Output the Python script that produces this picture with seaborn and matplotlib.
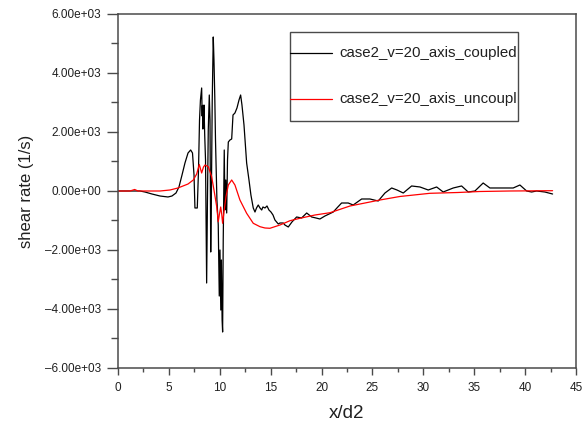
import numpy as np
import pandas as pd
import matplotlib
matplotlib.use("Agg")
import matplotlib.pyplot as plt
from matplotlib.ticker import MultipleLocator, FuncFormatter
from matplotlib.patches import Rectangle
from matplotlib.lines import Line2D
from matplotlib.transforms import Bbox, TransformedBbox
import seaborn as sns

# Shear rate along the axis, coupled run
x_coupled = [0.00, 1.18, 2.16, 2.65, 3.34, 4.13, 4.91, 5.30, 5.70, 5.99, 6.29, 6.58, 6.88,
             7.14, 7.32, 7.47, 7.56, 7.79, 7.91, 8.01, 8.10, 8.22, 8.27, 8.30, 8.34, 8.38, 8.45, 8.52,
             8.60, 8.71, 8.79, 8.87, 8.97, 9.04, 9.11, 9.18, 9.26, 9.36, 9.43, 9.51, 9.58,
             9.66, 9.72, 9.85, 9.95, 10.02, 10.10, 10.16, 10.23, 10.28, 10.34, 10.44, 10.51,
             10.59, 10.68, 10.76, 10.84, 11.00, 11.17, 11.30, 11.49, 11.69, 11.89, 12.05,
             12.18, 12.38, 12.64, 12.87, 13.06, 13.29, 13.46, 13.61, 13.78, 13.95, 14.12,
             14.24, 14.44, 14.64, 14.83, 15.03, 15.23, 15.42, 15.75, 15.91, 16.24, 16.40,
             16.73, 17.09, 17.55, 18.04, 18.54, 19.03, 19.45, 19.84, 20.33, 21.15, 21.51,
             21.97, 22.62, 23.11, 23.94, 24.75, 25.57, 26.23, 26.89, 27.41, 28.03, 28.85,
             29.67, 30.48, 31.31, 31.95, 32.94, 33.76, 34.41, 35.07, 35.88, 36.54, 37.85,
             38.83, 39.49, 40.15, 40.64, 41.13, 41.94, 42.70]
y_coupled = [0, 0, 0, -34, -102, -170, -203, -170, -68, 136, 542, 949, 1288,
             1390, 1288, 542, -576, -576, 712, 2407, 3085, 3492, 2540, 2900, 2100, 2237, 2915, 1898,
             1051, -3119, -305, 2068, 3254, 2407, -2068, 34, 3085, 5221, 4441, 3187, 1729,
             542, -305, -1153, -3560, -2000, -4034, -2339, -4373, -4780, -1661, 1390, -644,
             373, -746, 1051, 1661, 1729, 1763, 2576, 2644, 2814, 3085, 3254,
             2915, 2237, 949, 373, -136, -576, -712, -576, -475, -576, -644,
             -542, -576, -508, -644, -712, -814, -983, -1119, -1085, -1085, -1153,
             -1220, -1051, -881, -915, -746, -881, -915, -949, -848, -712, -576,
             -407, -407, -475, -271, -271, -339, -68, 102, 34, -68, 170,
             136, 34, 136, -34, 102, 170, -34, 0, 271, 102, 102,
             102, 203, 0, -34, 0, -34, -102]

# Shear rate along the axis, uncoupled run
x_uncoupled = [0.00, 1.18, 1.64, 1.96, 3.14, 4.13, 5.11, 5.89, 6.88, 7.40, 7.73, 7.99, 8.22,
               8.40, 8.55, 8.87, 9.20, 9.43, 9.70, 9.85, 9.97, 10.09, 10.20, 10.28, 10.41,
               10.61, 10.84, 11.17, 11.49, 11.98, 12.64, 13.29, 13.95, 14.44, 14.93, 15.91,
               16.90, 17.88, 19.35, 20.83, 22.79, 25.74, 27.70, 30.65, 33.40, 35.56, 38.51,
               42.70]
y_uncoupled = [0, 0, 51, 0, 0, 0, 34, 102, 237, 373, 576, 898, 610,
               814, 881, 824, 485, 34, -532, -1041, -780, -542, -814, -1095, -712,
               -193, 203, 373, 203, -305, -756, -1095, -1210, -1254, -1264, -1153,
               -1007, -925, -814, -736, -509, -305, -186, -78, -51, -17, 0,
               10]

series_names = ["case2_v=20_axis_coupled", "case2_v=20_axis_uncoupled"]
series_colors = ["#000000", "#ff0000"]

x_ticks = [0, 5, 10, 15, 20, 25, 30, 35, 40, 45]
y_ticks = [-6000, -4000, -2000, 0, 2000, 4000, 6000]

df = pd.concat([
    pd.DataFrame({"x": x_coupled, "rate": y_coupled, "case": series_names[0]}),
    pd.DataFrame({"x": x_uncoupled, "rate": y_uncoupled, "case": series_names[1]}),
])

sns.set_style("ticks")
plt.rcParams["font.family"] = ["Liberation Sans", "DejaVu Sans"]

fig = plt.figure(figsize=(5.85, 4.28), dpi=100)
ax = fig.add_axes([0.2017, 0.1402, 0.7829, 0.8271])

sns.lineplot(data=df, x="x", y="rate", hue="case", hue_order=series_names,
             palette=dict(zip(series_names, series_colors)), estimator=None,
             sort=False, linewidth=0.9, legend=False, ax=ax)

ax.set_xlim(0, 45)
ax.set_ylim(-6000, 6000)
ax.set_xticks(x_ticks)
ax.set_yticks(y_ticks)
ax.xaxis.set_minor_locator(MultipleLocator(2.5))
ax.yaxis.set_minor_locator(MultipleLocator(1000))
ax.yaxis.set_major_formatter(FuncFormatter(lambda v, p: f"{v:.2e}".replace("-", "\u2013")))
ax.xaxis.set_major_formatter(FuncFormatter(lambda v, p: f"{v:g}"))

spine_color = "#4a4a4a"
for s in ax.spines.values():
    s.set_color(spine_color)
    s.set_linewidth(1.1)

ax.tick_params(axis="both", which="both", direction="out", color=spine_color,
               width=1.0, labelsize=8.5, labelcolor="#202020")
ax.tick_params(axis="y", which="major", length=8, pad=4)
ax.tick_params(axis="y", which="minor", length=5)
ax.tick_params(axis="x", which="major", length=5, pad=5)
ax.tick_params(axis="x", which="minor", length=3)

ax.set_xlabel("x/d2", fontsize=13.5, color="#202020", labelpad=8)
ax.set_ylabel("shear rate (1/s)", fontsize=12, color="#202020", labelpad=8)

# Boxed key in the upper right; labels are cut at the box edge
key_x0, key_y0, key_w, key_h = 0.3755, 0.6977, 0.4979, 0.2513
box = Rectangle((key_x0, key_y0), key_w, key_h, transform=ax.transAxes,
                facecolor="white", edgecolor=spine_color, linewidth=1.0, zorder=5)
ax.add_patch(box)
key_clip = TransformedBbox(Bbox([[key_x0, key_y0], [key_x0 + key_w - 0.002, key_y0 + key_h]]),
                           ax.transAxes)
for name, color, yy in zip(series_names, series_colors, [0.8898, 0.7599]):
    ax.add_line(Line2D([key_x0, 0.467], [yy, yy], transform=ax.transAxes,
                       color=color, linewidth=0.9, zorder=6))
    t = ax.text(0.4825, yy, name, transform=ax.transAxes, fontsize=10.8,
                color="#202020", va="center", ha="left", zorder=6)
    t.set_clip_on(True)
    t.set_clip_path(None)
    t.set_clip_box(key_clip)

fig.savefig("out.png", dpi=100)
